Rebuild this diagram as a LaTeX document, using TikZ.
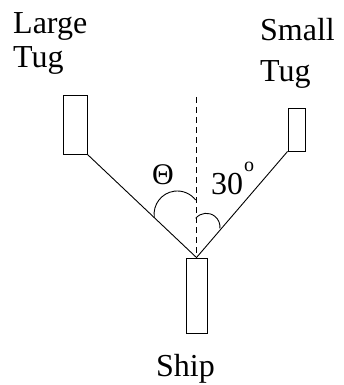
\documentclass[tikz,border=0pt]{standalone}
\usepackage{fontspec}
\setmainfont{Liberation Serif}
\usetikzlibrary{positioning}
\tikzset{boat/.style = {draw=black, rectangle, inner sep=0pt, line width=0.9pt}}
\tikzset{tagtext/.style = {inner sep=0pt, anchor=base west, font=\fontsize{32}{32}\selectfont}}
\tikzset{rope/.style = {line width=0.9pt}}
\tikzset{centreline/.style = {line width=0.9pt, dash pattern=on 6pt off 4pt}}

\begin{document}
\begin{tikzpicture}[x=1pt,y=1pt]
\useasboundingbox (0,0) rectangle (344,-385);
\node [boat, minimum width=24pt, minimum height=59pt] (large) at (75,-124.5) {};
\node [boat, minimum width=17pt, minimum height=43pt] (small) at (296.5,-129.5) {};
\node [boat, minimum width=21pt, minimum height=75pt] (ship) at (196.5,-295.5) {};

\node [tagtext] (largename) at (13,-34) {Large};
\node [tagtext, below=34pt of largename.base west, anchor=base west] (largetug) {Tug};
\node [tagtext] (smallname) at (260,-41) {Small};
\node [tagtext, below=41pt of smallname.base west, anchor=base west] (smalltug) {Tug};
\node [tagtext] (shipname) at (156,-376) {Ship};

\coordinate (top) at (196.5,-97);
\draw [centreline] (top) -- (ship.north);
\draw [rope] (large.south east) -- (ship.north);
\draw [rope] (small.south west) -- (ship.north);

% angle marks
\draw [rope] (154.3,-217.3) arc[start angle=187.7, end angle=37.7, radius=23.2];
\draw [rope] (195.7,-218.3) arc[start angle=140.6, end angle=-5.4, radius=13.7];
\node [inner sep=0pt, font=\fontsize{30}{30}\selectfont] (theta) at (163,-175) {Θ};
\node [tagtext] (angle) at (211,-194) {30\kern1pt\raisebox{23pt}{\fontsize{20}{20}\selectfont o}};
\end{tikzpicture}
\end{document}
